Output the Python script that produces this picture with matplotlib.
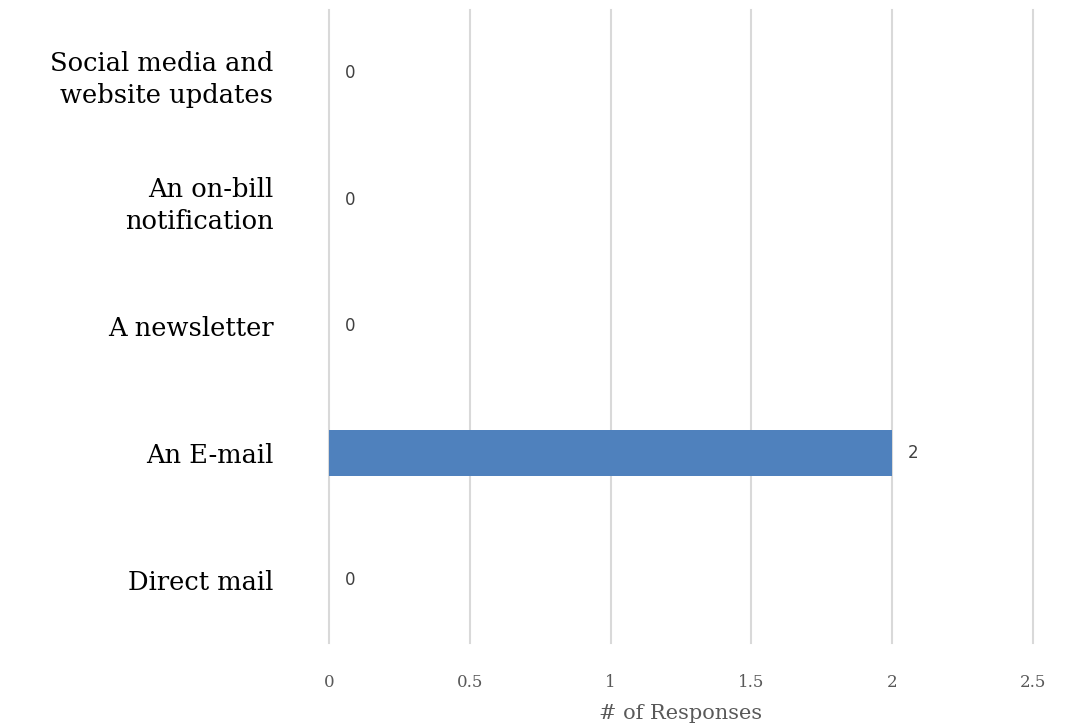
import matplotlib
matplotlib.use("Agg")
import matplotlib.pyplot as plt

categories = ["Direct mail", "An E-mail", "A newsletter", "An on-bill\nnotification",
              "Social media and\nwebsite updates"]
values = [0, 2, 0, 0, 0]
xticks = [0, 0.5, 1, 1.5, 2, 2.5]
xtick_labels = ["0", "0.5", "1", "1.5", "2", "2.5"]

fig = plt.figure(figsize=(10.71, 7.27), dpi=100)
ax = fig.add_axes([0.3072, 0.1156, 0.6573, 0.8706])

pos = list(range(len(categories)))
ax.barh(pos, values, height=0.36, color="#4f81bd", zorder=3)
ax.set_xlim(0, 2.5)
ax.set_ylim(-0.5, len(categories) - 0.5)
ax.set_xticks(xticks)
ax.set_xticklabels(xtick_labels, family="DejaVu Serif", fontsize=12, color="#595959")
ax.set_yticks(pos)
ax.set_yticklabels(categories, family="DejaVu Serif", fontsize=18.5, color="black",
                   linespacing=1.35)
ax.tick_params(axis="y", length=0, pad=40)
ax.tick_params(axis="x", length=0, pad=22)
ax.grid(axis="x", color="#d9d9d9", linewidth=1.5, zorder=0)
for gl in ax.get_xgridlines():
    gl.set_clip_on(False)
for s in ax.spines.values():
    s.set_visible(False)

for p, v in zip(pos, values):
    ax.text(v + 0.055, p, str(v), va="center", ha="left", fontsize=12,
            color="#404040", family="DejaVu Sans")

ax.set_xlabel("# of Responses", family="DejaVu Serif", fontsize=15,
              color="#595959", labelpad=10)

fig.savefig("out.png", dpi=100)
